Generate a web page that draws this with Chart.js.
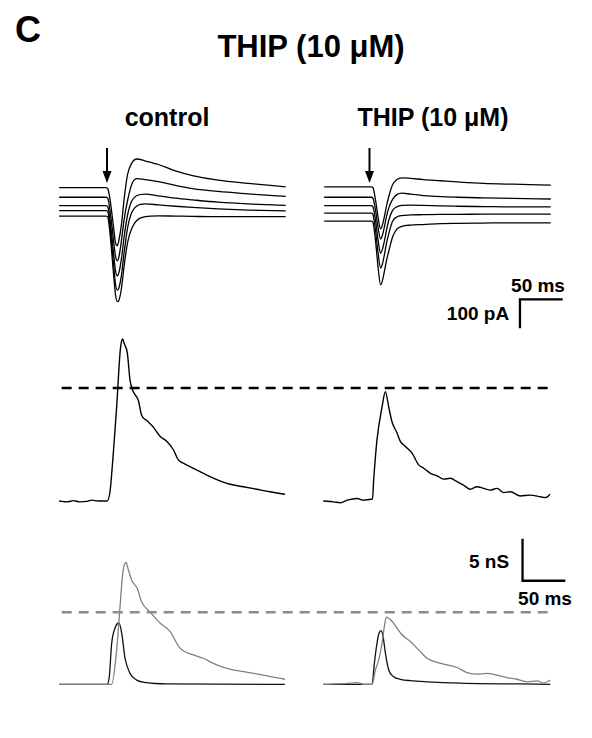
<!DOCTYPE html>
<html>
<head>
<meta charset="utf-8">
<title>THIP (10 μM)</title>
<script src="https://cdn.jsdelivr.net/npm/chart.js@4.4.1/dist/chart.umd.min.js"></script>
<style>
  body { margin: 0; background: #fff; font-family: 'Liberation Sans', Arial, sans-serif; }
  #fig { position: relative; width: 592px; height: 738px; overflow: hidden; }
  .row { position: absolute; left: 0; width: 592px; }
  .lbl { position: absolute; font-weight: bold; line-height: 1; white-space: nowrap; color: #000; }
  .c { transform: translateX(-50%); }
</style>
</head>
<body>
<div id="fig">
  <div class="lbl" style="left:15px;top:12px;font-size:36px">C</div>
  <div class="lbl c" style="left:311px;top:31px;font-size:31px">THIP (10 μM)</div>
  <div class="lbl c" style="left:167px;top:105px;font-size:25px">control</div>
  <div class="lbl c" style="left:433px;top:105px;font-size:25px">THIP (10 μM)</div>
  <div class="lbl c" style="left:538px;top:276px;font-size:19px">50 ms</div>
  <div class="lbl c" style="left:478px;top:304px;font-size:19px">100 pA</div>
  <div class="lbl c" style="left:489px;top:552px;font-size:19px">5 nS</div>
  <div class="lbl c" style="left:545px;top:589px;font-size:19px">50 ms</div>

  <div class="row" style="top:140px;height:195px"><canvas id="currentChart"></canvas></div>
  <div class="row" style="top:335px;height:185px"><canvas id="totalChart"></canvas></div>
  <div class="row" style="top:530px;height:170px"><canvas id="splitChart"></canvas></div>
</div>

<script>
// ---- data (time in ms from stimulus; current in pA; conductance in nS) ----
const curT = [-56, -1, 1, 4, 7, 10, 12, 14, 17, 20, 24, 29, 35, 45, 60, 80, 100, 130, 165, 209];

const ctrlI1 = [0, 0, -4, -50, -120, -190, -200, -180, -125, -40, 45, 85, 99, 92, 80, 58, 42, 26, 15, 3];
const ctrlI2 = [-33, -33, -37, -88, -165, -237, -252, -238, -180, -110, -45, 12, 31, 28, 21, 8, -3, -13, -21, -30];
const ctrlI3 = [-62, -62, -66, -122, -207, -287, -304, -292, -243, -170, -95, -45, -27, -22, -28, -36, -42, -50, -56, -61];
const ctrlI4 = [-79, -79, -83, -148, -243, -333, -353, -345, -300, -225, -140, -85, -63, -56, -59, -64, -68, -73, -77, -80];
const ctrlI5 = [-98, -98, -102, -172, -275, -370, -393, -388, -345, -270, -190, -140, -112, -100, -97, -98, -99, -100, -100, -100];

const thipI1 = [3, 3, 0, -41, -101, -142, -130, -106, -62, -26, 10, 28, 34, 32, 28, 24, 20, 15, 12, 9];
const thipI2 = [-33, -33, -36, -76, -137, -177, -165, -141, -98, -66, -40, -24, -19, -22, -27, -31, -33, -35, -37, -39];
const thipI3 = [-62, -62, -65, -111, -180, -226, -213, -190, -145, -108, -78, -66, -61, -60, -61, -63, -64, -65, -66, -66];
const thipI4 = [-88, -88, -92, -145, -224, -277, -264, -238, -190, -154, -116, -101, -96, -94, -93, -92, -92, -91, -91, -91];
const thipI5 = [-115, -115, -119, -181, -273, -335, -322, -295, -250, -214, -170, -143, -133, -129, -127, -124, -123, -122, -121, -121];

const ctrlMidT = [-56, -47, -39, -32, -24, -18, -10, 0, 3.5, 7.4, 11.3, 15.2, 16.8, 18.4, 19.9, 23.8, 26.9, 30.8, 36.6, 40.5,
  46.4, 54.2, 62, 69.8, 77.6, 83.4, 89.2, 97, 108.8, 120.5, 132, 143.9, 159.4, 175, 190.6, 208.2];
const ctrlMidV = [0, -0.1, 0.05, -0.1, -0.05, 0.1, 0, 0, 1.1, 5.7, 11.2, 17.6, 18.9, 19.3, 18.8, 17.6, 14.4, 13.0, 12.0, 10.2,
  9.6, 8.8, 7.7, 7.1, 6.1, 4.9, 4.5, 4.1, 3.5, 2.9, 2.4, 2.0, 1.7, 1.4, 1.1, 0.8];

const thipMidT = [-57, -45, -37, -29, -17.5, -10, -1, 0.5, 1.9, 5.8, 11.7, 15.6, 19.5, 23.4, 29.2, 33.1, 39, 46.8, 54.5, 60.4,
  68.2, 76, 83.8, 91.6, 99.4, 107, 115, 122.8, 130.5, 138.4, 146.2, 154, 161.8, 173.5, 185, 197, 202.7, 208.5];
const thipMidV = [0, -0.1, -0.2, 0.1, 0.3, 0.1, 0.2, 0.2, 2.5, 7.3, 11.2, 13.0, 11.2, 9.4, 8.1, 7.1, 6.5, 5.7, 4.3, 3.9,
  3.3, 3.0, 2.6, 2.7, 2.3, 1.9, 1.4, 1.7, 1.5, 1.3, 1.5, 1.0, 1.1, 0.6, 0.7, 0.5, 0.4, 0.8];

const ctrlGrayT = [-56, -20, 0, 5.5, 11.3, 15.2, 18.4, 22.2, 25, 28.9, 35.4, 40.6, 50.3, 62, 73.7, 85.4, 101, 112.6, 124.3, 140, 159.4, 182.8, 208.2];
const ctrlGrayV = [0, 0, 0, 0, 4.1, 9.2, 13.2, 14.5, 13.6, 12.4, 11.4, 9.8, 8.6, 7.3, 6.3, 4.3, 3.5, 3.1, 2.5, 1.9, 1.5, 1.1, 0.6];
const ctrlBlackT = [-56, 0, 2.7, 5.5, 9.4, 14, 17.2, 21.1, 26.9, 34.7, 46.4, 69.8, 208];
const ctrlBlackV = [0, 0, 0.9, 4.9, 6.7, 7.3, 6.1, 3.1, 1.3, 0.5, 0.2, 0.05, 0];

const thipGrayT = [-57, -29, -17.5, -9.7, 0, 3.9, 7.8, 11.7, 14.4, 16.7, 23.4, 29.2, 35.1, 44.8, 54.5, 64.3, 76, 87.7, 99.4,
  111, 122.8, 134.5, 146.2, 157.9, 169.6, 181.3, 193, 200.7, 208.5];
const thipGrayV = [0, 0.1, 0.2, 0, 0, 1.7, 2.9, 4.9, 6.9, 8.0, 7.5, 6.7, 5.9, 5.1, 4.1, 3.1, 2.6, 2.3, 2.0,
  1.4, 1.2, 1.3, 1.1, 0.8, 0.6, 0.3, 0.4, 0.15, 0.5];
const thipBlackT = [-57, 0, 2.7, 5.8, 8.2, 10.5, 12.9, 15.6, 19.5, 25.3, 33.1, 44.8, 64.3, 103, 208.5];
const thipBlackV = [0, 0, 2.5, 4.9, 6.1, 6.4, 5.7, 3.7, 1.7, 0.9, 0.6, 0.43, 0.3, 0.15, 0];

// reference levels (dashed) and stimulus arrows
const totalRefLevel = 13.45;   // nS
const splitRefLevel = 8.57;    // nS
const refSpan = [-53, 518];    // ms
const stimTimes = [0, 307];    // ms
const stimArrowFrom = 137, stimArrowTo = 16; // pA

// scale bars
const barCurrent = { t: 483, v: -385, dt: 50, dv: 100 };
const barCond = { t: 486, v: 12.33, dt: 50, dv: 5 };

// ---- layout ----
const COL_OFFSET = 310;        // right column shift, ms
const MS_PX = 0.855, PA_PX = 0.29, NS_PX = 8.4;
const X_MIN = -107 / MS_PX, X_MAX = (592 - 107) / MS_PX;

const pts = (ts, vs, shift = 0) => ts.map((t, i) => ({ x: t + shift, y: vs[i] }));

function trace(ts, vs, shift, color, width) {
    return {
        data: pts(ts, vs, shift),
        borderColor: color || '#000',
        borderWidth: width || 1.3,
        pointRadius: 0,
        cubicInterpolationMode: 'monotone',
        fill: false
    };
}

function dashed(level, color, width) {
    return {
        data: refSpan.map(t => ({ x: t, y: level })),
        borderColor: color, borderWidth: width, borderDash: [10, 7],
        pointRadius: 0, fill: false
    };
}

function scaleBar(b, vertUp) {
    const corner = { x: b.t, y: b.v };
    const data = vertUp
        ? [{ x: b.t, y: b.v + b.dv }, corner, { x: b.t + b.dt, y: b.v }]
        : [{ x: b.t + b.dt, y: b.v }, corner, { x: b.t, y: b.v - b.dv }];
    return { data, borderColor: '#000', borderWidth: 2.3, pointRadius: 0, tension: 0, fill: false };
}

const stimArrows = {
    id: 'stimArrows',
    afterDatasetsDraw(chart, args, opts) {
        if (!opts.times) return;
        const { ctx, scales: { x, y } } = chart;
        ctx.save();
        ctx.strokeStyle = '#000';
        ctx.fillStyle = '#000';
        ctx.lineWidth = 2;
        opts.times.forEach(t => {
            const px = x.getPixelForValue(t);
            const top = y.getPixelForValue(opts.from);
            const tip = y.getPixelForValue(opts.to);
            ctx.beginPath();
            ctx.moveTo(px, top);
            ctx.lineTo(px, tip - 10);
            ctx.stroke();
            ctx.beginPath();
            ctx.moveTo(px - 4.5, tip - 12);
            ctx.lineTo(px + 4.5, tip - 12);
            ctx.lineTo(px, tip);
            ctx.closePath();
            ctx.fill();
        });
        ctx.restore();
    }
};

function makeRow(id, yMin, yMax, datasets, arrows) {
    const ctx = document.getElementById(id).getContext('2d');
    return new Chart(ctx, {
        type: 'line',
        data: { datasets },
        options: {
            animation: false,
            responsive: true,
            maintainAspectRatio: false,
            layout: { padding: 0 },
            scales: {
                x: { type: 'linear', min: X_MIN, max: X_MAX, display: false },
                y: { type: 'linear', min: yMin, max: yMax, display: false }
            },
            plugins: {
                legend: { display: false },
                tooltip: { enabled: false },
                stimArrows: arrows || {}
            }
        },
        plugins: [stimArrows]
    });
}

// current traces, pA (0 = top control holding level at y 187.7px)
makeRow('currentChart', (187.7 - 335) / PA_PX, (187.7 - 140) / PA_PX, [
    trace(curT, ctrlI1, 0), trace(curT, ctrlI2, 0), trace(curT, ctrlI3, 0),
    trace(curT, ctrlI4, 0), trace(curT, ctrlI5, 0),
    trace(curT, thipI1, COL_OFFSET), trace(curT, thipI2, COL_OFFSET), trace(curT, thipI3, COL_OFFSET),
    trace(curT, thipI4, COL_OFFSET), trace(curT, thipI5, COL_OFFSET),
    scaleBar(barCurrent, false)
], { times: stimTimes, from: stimArrowFrom, to: stimArrowTo });

// total conductance, nS
makeRow('totalChart', (501 - 520) / NS_PX, (501 - 335) / NS_PX, [
    dashed(totalRefLevel, '#000', 2.3),
    trace(ctrlMidT, ctrlMidV, 0, '#000', 1.4),
    trace(thipMidT, thipMidV, COL_OFFSET, '#000', 1.4)
]);

// split conductance, nS
makeRow('splitChart', (684.3 - 700) / NS_PX, (684.3 - 530) / NS_PX, [
    dashed(splitRefLevel, '#8c8c8c', 2.6),
    trace(ctrlGrayT, ctrlGrayV, 0, '#808080', 1.3),
    trace(ctrlBlackT, ctrlBlackV, 0, '#111', 1.3),
    trace(thipGrayT, thipGrayV, COL_OFFSET, '#808080', 1.3),
    trace(thipBlackT, thipBlackV, COL_OFFSET, '#111', 1.3),
    scaleBar(barCond, true)
]);
</script>
</body>
</html>
